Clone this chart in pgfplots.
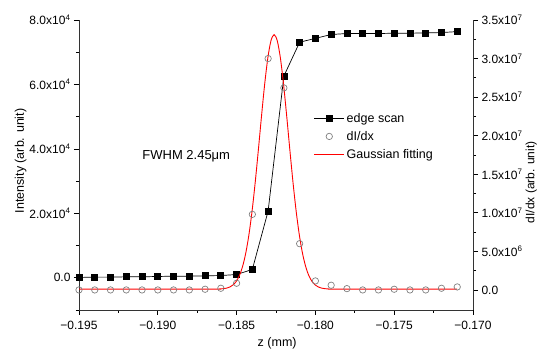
\documentclass[border=0pt]{standalone}
\usepackage{fontspec}
\setmainfont{Liberation Sans}
\usepackage{pgfplots}
\pgfplotsset{compat=1.18}
\definecolor{circgray}{RGB}{128,128,128}
\pgfplotsset{
  edgeleg/.style={legend image code/.code={\draw[##1,mark repeat=2,mark phase=2] plot coordinates {(0pt,0pt)(15pt,0pt)(30pt,0pt)};}},
  circleg/.style={legend image code/.code={\draw[##1,only marks] plot coordinates {(15pt,0pt)};}},
  lineleg/.style={legend image code/.code={\draw[##1] (0pt,0pt)--(30pt,0pt);}},
}
\begin{document}
\begin{tikzpicture}
\path[use as bounding box] (0,0) rectangle (539pt,353pt);
\pgfplotsset{
  common/.style={
    at={(79pt,43pt)}, anchor=south west,
    width=394pt, height=290pt, scale only axis,
    xmin=-0.195, xmax=-0.170,
    tick align=outside, major tick length=5pt, minor tick length=3pt,
    every tick/.style={black, line width=0.7pt},
    axis line style={line width=0.8pt, black!80},
    tick label style={font=\fontsize{12}{14}\selectfont},
    label style={font=\fontsize{12.5}{14}\selectfont},
    scaled ticks=false,
  }
}
\begin{axis}[common,
  ymin=-10000, ymax=80000,
  axis y line*=left, axis x line*=bottom,
  xtick={-0.195,-0.19,-0.185,-0.18,-0.175,-0.17},
  xticklabels={−0.195,−0.190,−0.185,−0.180,−0.175,−0.170},
  minor xtick={-0.1925,-0.1875,-0.1825,-0.1775,-0.1725},
  xticklabel style={yshift=-3pt},
  ytick={0,20000,40000,60000,80000},
  yticklabels={0.0,2.0x10\textsuperscript{4},4.0x10\textsuperscript{4},6.0x10\textsuperscript{4},8.0x10\textsuperscript{4}},
  minor ytick={-10000,10000,30000,50000,70000},
  xlabel={z (mm)}, ylabel={Intensity (arb. unit)},
  xlabel style={at={(axis description cs:0.503,-0.114)}, anchor=center},
  ylabel style={at={(axis description cs:-0.148,0.514)}, anchor=center},
]
\addplot[black, line width=0.7pt, mark=square*, mark size=3pt, mark options={solid}] coordinates {
(-0.195,100)(-0.194,200)(-0.193,200)(-0.192,300)(-0.191,300)(-0.190,400)(-0.189,500)(-0.188,500)(-0.187,600)(-0.186,700)(-0.185,1000)(-0.184,2600)(-0.183,20700)(-0.182,62600)(-0.181,73100)(-0.180,74300)(-0.179,75500)(-0.178,75800)(-0.177,75800)(-0.176,75800)(-0.175,75900)(-0.174,75900)(-0.173,76000)(-0.172,76100)(-0.171,76400)};
\node[anchor=west, font=\fontsize{13}{15}\selectfont] at (axis cs:-0.1912,37800) {FWHM 2.45μm};
\end{axis}
\begin{axis}[common,
  ymin=-2600000, ymax=35000000,
  axis y line*=right, axis x line=none,
  ytick={0,5000000,10000000,15000000,20000000,25000000,30000000,35000000},
  yticklabels={0.0,5.0x10\textsuperscript{6},1.0x10\textsuperscript{7},1.5x10\textsuperscript{7},2.0x10\textsuperscript{7},2.5x10\textsuperscript{7},3.0x10\textsuperscript{7},3.5x10\textsuperscript{7}},
  minor ytick={2500000,7500000,12500000,17500000,22500000,27500000,32500000},
  ylabel={dI/dx (arb. unit)},
  ylabel style={at={(axis description cs:1.148,0.44)}, anchor=center, font=\fontsize{12}{14}\selectfont},
  legend style={draw=none, fill=none, at={(0.593,0.69)}, anchor=north west,
    font=\fontsize{12.5}{14}\selectfont, row sep=3.5pt, inner sep=1pt},
  legend cell align=left,
]
\addlegendimage{black, line width=0.7pt, mark=square*, mark size=2.7pt, edgeleg}
\addlegendentry{edge scan}
\addlegendimage{circgray, mark=o, mark size=3.2pt, line width=0.7pt, circleg}
\addlegendentry{dI/dx}
\addlegendimage{red, line width=0.9pt, lineleg}
\addlegendentry{Gaussian fitting}
\addplot[forget plot, only marks, circgray, mark=o, mark size=3.2pt, line width=0.7pt] coordinates {
(-0.195,0)(-0.194,0)(-0.193,0)(-0.192,0)(-0.191,0)(-0.190,0)(-0.189,0)(-0.188,0)(-0.187,90000)(-0.186,220000)(-0.185,870000)(-0.184,9800000)(-0.183,30000000)(-0.182,26200000)(-0.181,6000000)(-0.180,1170000)(-0.179,610000)(-0.178,170000)(-0.177,0)(-0.176,0)(-0.175,90000)(-0.174,0)(-0.173,0)(-0.172,220000)(-0.171,390000)};
\addplot[forget plot, red, line width=0.9pt, smooth] coordinates {
(-0.195,100000)(-0.18662,100000)(-0.18622,113000)(-0.18582,169000)(-0.18562,245000)(-0.18542,390000)(-0.18522,658000)(-0.18502,1120000)(-0.18482,1875000)(-0.18462,3050000)(-0.18442,4766000)(-0.18422,7136000)(-0.18402,10200000)(-0.18382,13930000)(-0.18362,18140000)(-0.18342,22520000)(-0.18322,26650000)(-0.18302,30060000)(-0.18282,32310000)(-0.18262,33100000)(-0.18242,32310000)(-0.18222,30060000)(-0.18202,26650000)(-0.18182,22520000)(-0.18162,18140000)(-0.18142,13930000)(-0.18122,10200000)(-0.18102,7136000)(-0.18082,4766000)(-0.18062,3050000)(-0.18042,1875000)(-0.18022,1120000)(-0.18002,658000)(-0.17982,390000)(-0.17962,245000)(-0.17942,169000)(-0.17902,113000)(-0.17862,100000)(-0.171,100000)};
\end{axis}
\end{tikzpicture}
\end{document}
